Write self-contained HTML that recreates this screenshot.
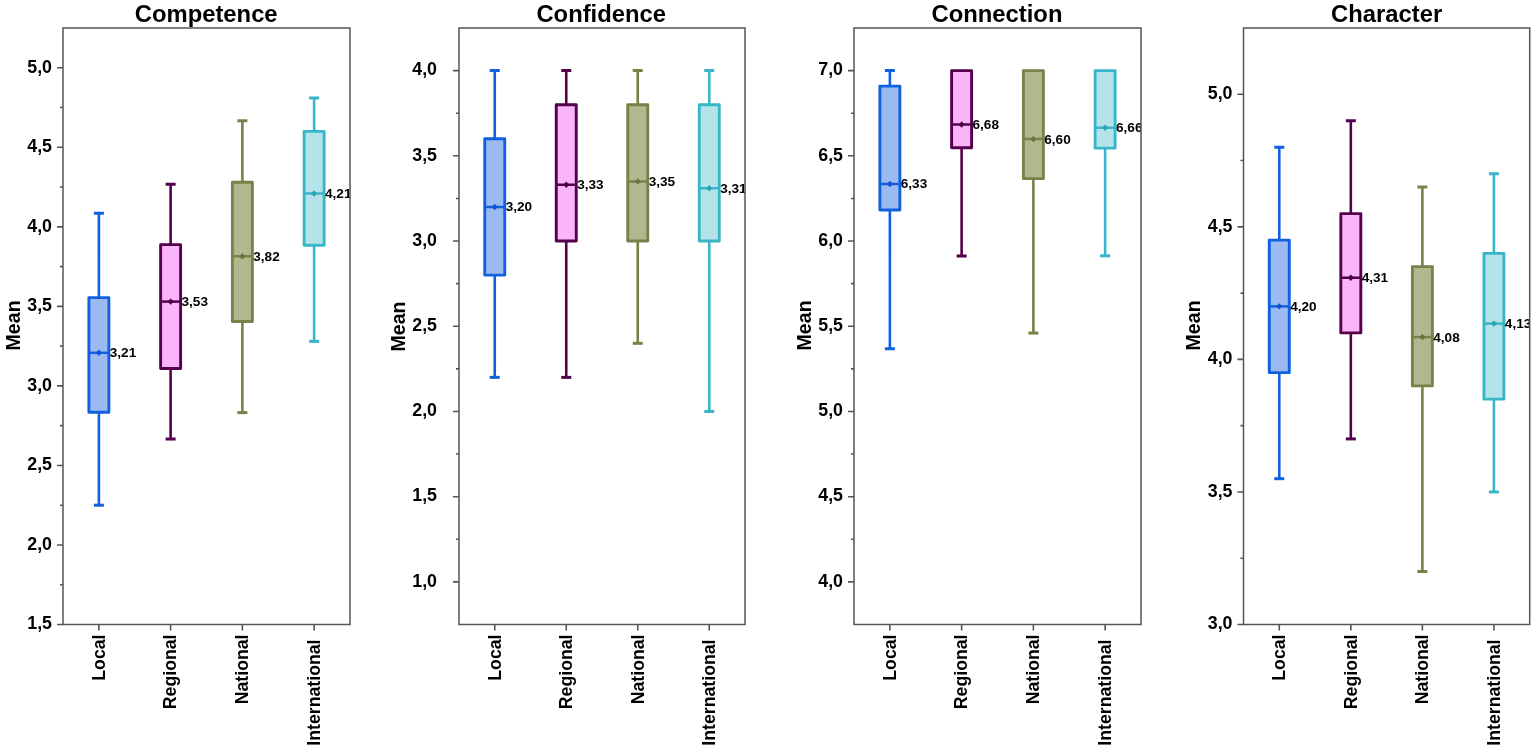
<!DOCTYPE html><html><head><meta charset="utf-8"><title>Box plots</title><style>
html,body{margin:0;padding:0;background:#fff;}body{width:1535px;height:750px;overflow:hidden;}
svg{display:block;}text{font-family:"Liberation Sans", Arial, sans-serif;font-weight:bold;fill:#000;}
.tl{font-size:17.8px;}.ml{font-size:13.6px;}.ti{font-size:23.8px;}.ax{font-size:19.6px;}.cat{font-size:17.7px;}
</style></head><body>
<svg width="1535" height="750" viewBox="0 0 1535 750">
<defs>
<clipPath id="c0"><rect x="63" y="28" width="287" height="596.5"/></clipPath>
<clipPath id="c1"><rect x="459" y="28" width="286" height="596.5"/></clipPath>
<clipPath id="c2"><rect x="854" y="28" width="287" height="596.5"/></clipPath>
<clipPath id="c3"><rect x="1243.5" y="28" width="286.2" height="596.5"/></clipPath>
</defs>
<text class="ti" x="206.2" y="22" text-anchor="middle">Competence</text>
<text class="ax" transform="translate(20,325.4) rotate(-90)" text-anchor="middle">Mean</text>
<g clip-path="url(#c0)">
<g stroke="#1060e0" stroke-width="2.6" fill="none" stroke-linejoin="round">
<line x1="98.88" y1="213.31" x2="98.88" y2="297.62"/>
<line x1="93.88" y1="213.31" x2="103.88" y2="213.31" stroke-width="3"/>
<line x1="98.88" y1="412.31" x2="98.88" y2="505.2"/>
<line x1="93.88" y1="505.2" x2="103.88" y2="505.2" stroke-width="3"/>
<rect x="88.88" y="297.62" width="20" height="114.69" fill="#9cbaf2" stroke-width="2.9"/>
<line x1="88.88" y1="352.81" x2="108.88" y2="352.81" stroke-width="2.5"/>
<path d="M95.88 352.81L98.88 349.61L101.88 352.81L98.88 356.01Z" fill="#1552cc" stroke="none"/>
</g>
<text class="ml" x="109.78" y="357.31">3,21</text>
<g stroke="#54004c" stroke-width="2.6" fill="none" stroke-linejoin="round">
<line x1="170.62" y1="184.2" x2="170.62" y2="244.65"/>
<line x1="165.62" y1="184.2" x2="175.62" y2="184.2" stroke-width="3"/>
<line x1="170.62" y1="368.56" x2="170.62" y2="439.03"/>
<line x1="165.62" y1="439.03" x2="175.62" y2="439.03" stroke-width="3"/>
<rect x="160.62" y="244.65" width="20" height="123.91" fill="#fab4f8" stroke-width="2.9"/>
<line x1="160.62" y1="301.59" x2="180.62" y2="301.59" stroke-width="2.5"/>
<path d="M167.62 301.59L170.62 298.39L173.62 301.59L170.62 304.79Z" fill="#48003f" stroke="none"/>
</g>
<text class="ml" x="181.53" y="306.09">3,53</text>
<g stroke="#7a8048" stroke-width="2.6" fill="none" stroke-linejoin="round">
<line x1="242.38" y1="120.74" x2="242.38" y2="182.29"/>
<line x1="237.38" y1="120.74" x2="247.38" y2="120.74" stroke-width="3"/>
<line x1="242.38" y1="321.48" x2="242.38" y2="412.62"/>
<line x1="237.38" y1="412.62" x2="247.38" y2="412.62" stroke-width="3"/>
<rect x="232.38" y="182.29" width="20" height="139.18" fill="#b3b790" stroke-width="2.9"/>
<line x1="232.38" y1="256.26" x2="252.38" y2="256.26" stroke-width="2.5"/>
<path d="M239.38 256.26L242.38 253.06L245.38 256.26L242.38 259.46Z" fill="#6c723e" stroke="none"/>
</g>
<text class="ml" x="253.28" y="260.76">3,82</text>
<g stroke="#38b6c8" stroke-width="2.6" fill="none" stroke-linejoin="round">
<line x1="314.12" y1="97.99" x2="314.12" y2="131.39"/>
<line x1="309.12" y1="97.99" x2="319.12" y2="97.99" stroke-width="3"/>
<line x1="314.12" y1="245.29" x2="314.12" y2="341.36"/>
<line x1="309.12" y1="341.36" x2="319.12" y2="341.36" stroke-width="3"/>
<rect x="304.12" y="131.39" width="20" height="113.89" fill="#b4e4ea" stroke-width="2.9"/>
<line x1="304.12" y1="193.43" x2="324.12" y2="193.43" stroke-width="2.5"/>
<path d="M311.12 193.43L314.12 190.23L317.12 193.43L314.12 196.63Z" fill="#2fa3b4" stroke="none"/>
</g>
<text class="ml" x="325.02" y="197.93">4,21</text>
</g>
<rect x="63" y="28" width="287" height="596.5" fill="none" stroke="#555555" stroke-width="1.5"/>
<path d="M57 624.5H63M60 584.73H63M57 544.97H63M60 505.2H63M57 465.43H63M60 425.67H63M57 385.9H63M60 346.13H63M57 306.37H63M60 266.6H63M57 226.83H63M60 187.07H63M57 147.3H63M60 107.53H63M57 67.77H63M98.88 624.5V630.5M170.62 624.5V630.5M242.38 624.5V630.5M314.12 624.5V630.5" stroke="#555555" stroke-width="1.6" fill="none"/>
<text class="tl" x="52" y="629.3" text-anchor="end">1,5</text>
<text class="tl" x="52" y="549.77" text-anchor="end">2,0</text>
<text class="tl" x="52" y="470.23" text-anchor="end">2,5</text>
<text class="tl" x="52" y="390.7" text-anchor="end">3,0</text>
<text class="tl" x="52" y="311.17" text-anchor="end">3,5</text>
<text class="tl" x="52" y="231.63" text-anchor="end">4,0</text>
<text class="tl" x="52" y="152.1" text-anchor="end">4,5</text>
<text class="tl" x="52" y="72.57" text-anchor="end">5,0</text>
<text class="cat" transform="translate(104.67,634.5) rotate(-90)" text-anchor="end">Local</text>
<text class="cat" transform="translate(176.43,634.5) rotate(-90)" text-anchor="end">Regional</text>
<text class="cat" transform="translate(248.18,634.5) rotate(-90)" text-anchor="end">National</text>
<text class="cat" transform="translate(319.93,639.5) rotate(-90)" text-anchor="end">International</text>
<text class="ti" x="601.2" y="22" text-anchor="middle">Confidence</text>
<text class="ax" transform="translate(404.7,326.5) rotate(-90)" text-anchor="middle">Mean</text>
<g clip-path="url(#c1)">
<g stroke="#1060e0" stroke-width="2.6" fill="none" stroke-linejoin="round">
<line x1="494.75" y1="70.61" x2="494.75" y2="138.78"/>
<line x1="489.75" y1="70.61" x2="499.75" y2="70.61" stroke-width="3"/>
<line x1="494.75" y1="275.12" x2="494.75" y2="377.38"/>
<line x1="489.75" y1="377.38" x2="499.75" y2="377.38" stroke-width="3"/>
<rect x="484.75" y="138.78" width="20" height="136.34" fill="#9cbaf2" stroke-width="2.9"/>
<line x1="484.75" y1="206.95" x2="504.75" y2="206.95" stroke-width="2.5"/>
<path d="M491.75 206.95L494.75 203.75L497.75 206.95L494.75 210.15Z" fill="#1552cc" stroke="none"/>
</g>
<text class="ml" x="505.65" y="211.45">3,20</text>
<g stroke="#54004c" stroke-width="2.6" fill="none" stroke-linejoin="round">
<line x1="566.25" y1="70.61" x2="566.25" y2="104.69"/>
<line x1="561.25" y1="70.61" x2="571.25" y2="70.61" stroke-width="3"/>
<line x1="566.25" y1="241.04" x2="566.25" y2="377.38"/>
<line x1="561.25" y1="377.38" x2="571.25" y2="377.38" stroke-width="3"/>
<rect x="556.25" y="104.69" width="20" height="136.34" fill="#fab4f8" stroke-width="2.9"/>
<line x1="556.25" y1="184.79" x2="576.25" y2="184.79" stroke-width="2.5"/>
<path d="M563.25 184.79L566.25 181.59L569.25 184.79L566.25 187.99Z" fill="#48003f" stroke="none"/>
</g>
<text class="ml" x="577.15" y="189.29">3,33</text>
<g stroke="#7a8048" stroke-width="2.6" fill="none" stroke-linejoin="round">
<line x1="637.75" y1="70.61" x2="637.75" y2="104.69"/>
<line x1="632.75" y1="70.61" x2="642.75" y2="70.61" stroke-width="3"/>
<line x1="637.75" y1="241.04" x2="637.75" y2="343.29"/>
<line x1="632.75" y1="343.29" x2="642.75" y2="343.29" stroke-width="3"/>
<rect x="627.75" y="104.69" width="20" height="136.34" fill="#b3b790" stroke-width="2.9"/>
<line x1="627.75" y1="181.39" x2="647.75" y2="181.39" stroke-width="2.5"/>
<path d="M634.75 181.39L637.75 178.19L640.75 181.39L637.75 184.59Z" fill="#6c723e" stroke="none"/>
</g>
<text class="ml" x="648.65" y="185.89">3,35</text>
<g stroke="#38b6c8" stroke-width="2.6" fill="none" stroke-linejoin="round">
<line x1="709.25" y1="70.61" x2="709.25" y2="104.69"/>
<line x1="704.25" y1="70.61" x2="714.25" y2="70.61" stroke-width="3"/>
<line x1="709.25" y1="241.04" x2="709.25" y2="411.46"/>
<line x1="704.25" y1="411.46" x2="714.25" y2="411.46" stroke-width="3"/>
<rect x="699.25" y="104.69" width="20" height="136.34" fill="#b4e4ea" stroke-width="2.9"/>
<line x1="699.25" y1="188.2" x2="719.25" y2="188.2" stroke-width="2.5"/>
<path d="M706.25 188.2L709.25 185L712.25 188.2L709.25 191.4Z" fill="#2fa3b4" stroke="none"/>
</g>
<text class="ml" x="720.15" y="192.7">3,31</text>
</g>
<rect x="459" y="28" width="286" height="596.5" fill="none" stroke="#555555" stroke-width="1.5"/>
<path d="M453 581.89H459M456 539.29H459M453 496.68H459M456 454.07H459M453 411.46H459M456 368.86H459M453 326.25H459M456 283.64H459M453 241.04H459M456 198.43H459M453 155.82H459M456 113.21H459M453 70.61H459M494.75 624.5V630.5M566.25 624.5V630.5M637.75 624.5V630.5M709.25 624.5V630.5" stroke="#555555" stroke-width="1.6" fill="none"/>
<text class="tl" x="437" y="586.69" text-anchor="end">1,0</text>
<text class="tl" x="437" y="501.48" text-anchor="end">1,5</text>
<text class="tl" x="437" y="416.26" text-anchor="end">2,0</text>
<text class="tl" x="437" y="331.05" text-anchor="end">2,5</text>
<text class="tl" x="437" y="245.84" text-anchor="end">3,0</text>
<text class="tl" x="437" y="160.62" text-anchor="end">3,5</text>
<text class="tl" x="437" y="75.41" text-anchor="end">4,0</text>
<text class="cat" transform="translate(500.55,634.5) rotate(-90)" text-anchor="end">Local</text>
<text class="cat" transform="translate(572.05,634.5) rotate(-90)" text-anchor="end">Regional</text>
<text class="cat" transform="translate(643.55,634.5) rotate(-90)" text-anchor="end">National</text>
<text class="cat" transform="translate(715.05,639.5) rotate(-90)" text-anchor="end">International</text>
<text class="ti" x="997" y="22" text-anchor="middle">Connection</text>
<text class="ax" transform="translate(810.5,325.4) rotate(-90)" text-anchor="middle">Mean</text>
<g clip-path="url(#c2)">
<g stroke="#1060e0" stroke-width="2.6" fill="none" stroke-linejoin="round">
<line x1="889.88" y1="70.61" x2="889.88" y2="86.12"/>
<line x1="884.88" y1="70.61" x2="894.88" y2="70.61" stroke-width="3"/>
<line x1="889.88" y1="210.02" x2="889.88" y2="348.75"/>
<line x1="884.88" y1="348.75" x2="894.88" y2="348.75" stroke-width="3"/>
<rect x="879.88" y="86.12" width="20" height="123.9" fill="#9cbaf2" stroke-width="2.9"/>
<line x1="879.88" y1="183.94" x2="899.88" y2="183.94" stroke-width="2.5"/>
<path d="M886.88 183.94L889.88 180.74L892.88 183.94L889.88 187.14Z" fill="#1552cc" stroke="none"/>
</g>
<text class="ml" x="900.77" y="188.44">6,33</text>
<g stroke="#54004c" stroke-width="2.6" fill="none" stroke-linejoin="round">
<line x1="961.62" y1="147.81" x2="961.62" y2="256.03"/>
<line x1="956.62" y1="256.03" x2="966.62" y2="256.03" stroke-width="3"/>
<rect x="951.62" y="70.61" width="20" height="77.2" fill="#fab4f8" stroke-width="2.9"/>
<line x1="951.62" y1="124.46" x2="971.62" y2="124.46" stroke-width="2.5"/>
<path d="M958.62 124.46L961.62 121.26L964.62 124.46L961.62 127.66Z" fill="#48003f" stroke="none"/>
</g>
<text class="ml" x="972.52" y="128.96">6,68</text>
<g stroke="#7a8048" stroke-width="2.6" fill="none" stroke-linejoin="round">
<line x1="1033.38" y1="178.66" x2="1033.38" y2="333.07"/>
<line x1="1028.38" y1="333.07" x2="1038.38" y2="333.07" stroke-width="3"/>
<rect x="1023.38" y="70.61" width="20" height="108.05" fill="#b3b790" stroke-width="2.9"/>
<line x1="1023.38" y1="139.12" x2="1043.38" y2="139.12" stroke-width="2.5"/>
<path d="M1030.38 139.12L1033.38 135.92L1036.38 139.12L1033.38 142.32Z" fill="#6c723e" stroke="none"/>
</g>
<text class="ml" x="1044.28" y="143.62">6,60</text>
<g stroke="#38b6c8" stroke-width="2.6" fill="none" stroke-linejoin="round">
<line x1="1105.12" y1="148.15" x2="1105.12" y2="255.86"/>
<line x1="1100.12" y1="255.86" x2="1110.12" y2="255.86" stroke-width="3"/>
<rect x="1095.12" y="70.61" width="20" height="77.55" fill="#b4e4ea" stroke-width="2.9"/>
<line x1="1095.12" y1="127.7" x2="1115.12" y2="127.7" stroke-width="2.5"/>
<path d="M1102.12 127.7L1105.12 124.5L1108.12 127.7L1105.12 130.9Z" fill="#2fa3b4" stroke="none"/>
</g>
<text class="ml" x="1116.03" y="132.2">6,66</text>
</g>
<rect x="854" y="28" width="287" height="596.5" fill="none" stroke="#555555" stroke-width="1.5"/>
<path d="M848 581.89H854M851 539.29H854M848 496.68H854M851 454.07H854M848 411.46H854M851 368.86H854M848 326.25H854M851 283.64H854M848 241.04H854M851 198.43H854M848 155.82H854M851 113.21H854M848 70.61H854M889.88 624.5V630.5M961.62 624.5V630.5M1033.38 624.5V630.5M1105.12 624.5V630.5" stroke="#555555" stroke-width="1.6" fill="none"/>
<text class="tl" x="843" y="586.69" text-anchor="end">4,0</text>
<text class="tl" x="843" y="501.48" text-anchor="end">4,5</text>
<text class="tl" x="843" y="416.26" text-anchor="end">5,0</text>
<text class="tl" x="843" y="331.05" text-anchor="end">5,5</text>
<text class="tl" x="843" y="245.84" text-anchor="end">6,0</text>
<text class="tl" x="843" y="160.62" text-anchor="end">6,5</text>
<text class="tl" x="843" y="75.41" text-anchor="end">7,0</text>
<text class="cat" transform="translate(895.67,634.5) rotate(-90)" text-anchor="end">Local</text>
<text class="cat" transform="translate(967.42,634.5) rotate(-90)" text-anchor="end">Regional</text>
<text class="cat" transform="translate(1039.17,634.5) rotate(-90)" text-anchor="end">National</text>
<text class="cat" transform="translate(1110.92,639.5) rotate(-90)" text-anchor="end">International</text>
<text class="ti" x="1386.6" y="22" text-anchor="middle">Character</text>
<text class="ax" transform="translate(1199.7,325.4) rotate(-90)" text-anchor="middle">Mean</text>
<g clip-path="url(#c3)">
<g stroke="#1060e0" stroke-width="2.6" fill="none" stroke-linejoin="round">
<line x1="1279.28" y1="147.3" x2="1279.28" y2="240.09"/>
<line x1="1274.28" y1="147.3" x2="1284.28" y2="147.3" stroke-width="3"/>
<line x1="1279.28" y1="372.64" x2="1279.28" y2="478.69"/>
<line x1="1274.28" y1="478.69" x2="1284.28" y2="478.69" stroke-width="3"/>
<rect x="1269.28" y="240.09" width="20" height="132.56" fill="#9cbaf2" stroke-width="2.9"/>
<line x1="1269.28" y1="306.37" x2="1289.28" y2="306.37" stroke-width="2.5"/>
<path d="M1276.28 306.37L1279.28 303.17L1282.28 306.37L1279.28 309.57Z" fill="#1552cc" stroke="none"/>
</g>
<text class="ml" x="1290.18" y="310.87">4,20</text>
<g stroke="#54004c" stroke-width="2.6" fill="none" stroke-linejoin="round">
<line x1="1350.83" y1="120.79" x2="1350.83" y2="213.58"/>
<line x1="1345.83" y1="120.79" x2="1355.83" y2="120.79" stroke-width="3"/>
<line x1="1350.83" y1="332.88" x2="1350.83" y2="438.92"/>
<line x1="1345.83" y1="438.92" x2="1355.83" y2="438.92" stroke-width="3"/>
<rect x="1340.83" y="213.58" width="20" height="119.3" fill="#fab4f8" stroke-width="2.9"/>
<line x1="1340.83" y1="277.73" x2="1360.83" y2="277.73" stroke-width="2.5"/>
<path d="M1347.83 277.73L1350.83 274.53L1353.83 277.73L1350.83 280.93Z" fill="#48003f" stroke="none"/>
</g>
<text class="ml" x="1361.73" y="282.23">4,31</text>
<g stroke="#7a8048" stroke-width="2.6" fill="none" stroke-linejoin="round">
<line x1="1422.38" y1="187.07" x2="1422.38" y2="266.6"/>
<line x1="1417.38" y1="187.07" x2="1427.38" y2="187.07" stroke-width="3"/>
<line x1="1422.38" y1="385.9" x2="1422.38" y2="571.48"/>
<line x1="1417.38" y1="571.48" x2="1427.38" y2="571.48" stroke-width="3"/>
<rect x="1412.38" y="266.6" width="20" height="119.3" fill="#b3b790" stroke-width="2.9"/>
<line x1="1412.38" y1="337.12" x2="1432.38" y2="337.12" stroke-width="2.5"/>
<path d="M1419.38 337.12L1422.38 333.92L1425.38 337.12L1422.38 340.32Z" fill="#6c723e" stroke="none"/>
</g>
<text class="ml" x="1433.28" y="341.62">4,08</text>
<g stroke="#38b6c8" stroke-width="2.6" fill="none" stroke-linejoin="round">
<line x1="1493.92" y1="173.81" x2="1493.92" y2="253.34"/>
<line x1="1488.92" y1="173.81" x2="1498.92" y2="173.81" stroke-width="3"/>
<line x1="1493.92" y1="399.16" x2="1493.92" y2="491.94"/>
<line x1="1488.92" y1="491.94" x2="1498.92" y2="491.94" stroke-width="3"/>
<rect x="1483.92" y="253.34" width="20" height="145.81" fill="#b4e4ea" stroke-width="2.9"/>
<line x1="1483.92" y1="323.6" x2="1503.92" y2="323.6" stroke-width="2.5"/>
<path d="M1490.92 323.6L1493.92 320.4L1496.92 323.6L1493.92 326.8Z" fill="#2fa3b4" stroke="none"/>
</g>
<text class="ml" x="1504.83" y="328.1">4,13</text>
</g>
<rect x="1243.5" y="28" width="286.2" height="596.5" fill="none" stroke="#555555" stroke-width="1.5"/>
<path d="M1237.5 624.5H1243.5M1240.5 558.22H1243.5M1237.5 491.94H1243.5M1240.5 425.67H1243.5M1237.5 359.39H1243.5M1240.5 293.11H1243.5M1237.5 226.83H1243.5M1240.5 160.56H1243.5M1237.5 94.28H1243.5M1279.28 624.5V630.5M1350.83 624.5V630.5M1422.38 624.5V630.5M1493.92 624.5V630.5" stroke="#555555" stroke-width="1.6" fill="none"/>
<text class="tl" x="1232.5" y="629.3" text-anchor="end">3,0</text>
<text class="tl" x="1232.5" y="496.74" text-anchor="end">3,5</text>
<text class="tl" x="1232.5" y="364.19" text-anchor="end">4,0</text>
<text class="tl" x="1232.5" y="231.63" text-anchor="end">4,5</text>
<text class="tl" x="1232.5" y="99.08" text-anchor="end">5,0</text>
<text class="cat" transform="translate(1285.08,634.5) rotate(-90)" text-anchor="end">Local</text>
<text class="cat" transform="translate(1356.62,634.5) rotate(-90)" text-anchor="end">Regional</text>
<text class="cat" transform="translate(1428.17,634.5) rotate(-90)" text-anchor="end">National</text>
<text class="cat" transform="translate(1499.72,639.5) rotate(-90)" text-anchor="end">International</text>
</svg></body></html>
